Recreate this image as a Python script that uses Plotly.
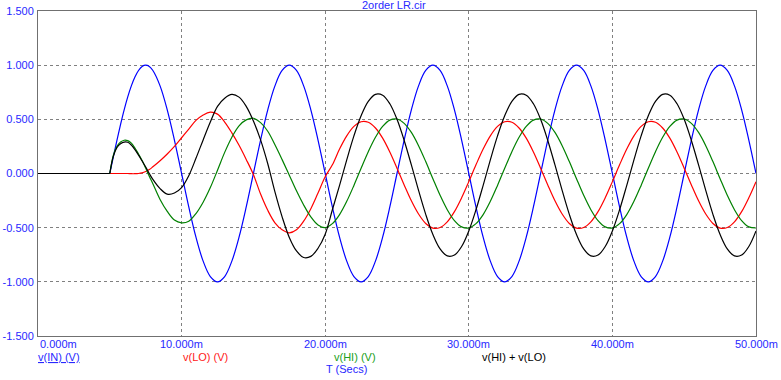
import plotly.graph_objects as go

# time samples in milliseconds
t_ms = [0, 4.75, 5, 5.25, 5.5, 5.75, 6, 6.25, 6.5, 6.75, 7, 7.25, 7.5, 7.75, 8,
        8.5, 9, 9.5, 10, 10.5, 11, 11.5, 12, 12.5, 13, 13.5, 14, 14.5, 15,
        15.5, 16, 16.5, 17, 17.5, 18, 18.5, 19, 19.5, 20,
        20.5, 21, 21.5, 22, 22.5, 23, 23.5, 24, 24.5, 25,
        25.5, 26, 26.5, 27, 27.5, 28, 28.5, 29, 29.5, 30,
        30.5, 31, 31.5, 32, 32.5, 33, 33.5, 34, 34.5, 35,
        35.5, 36, 36.5, 37, 37.5, 38, 38.5, 39, 39.5, 40,
        40.5, 41, 41.5, 42, 42.5, 43, 43.5, 44, 44.5, 45,
        45.5, 46, 46.5, 47, 47.5, 48, 48.5, 49, 49.5, 50]

v_in = [0, 0, 0, 0.156, 0.309, 0.454, 0.588, 0.707, 0.809, 0.891, 0.951, 0.988, 1.0, 0.988, 0.951,
        0.809, 0.588, 0.309, 0.0, -0.309, -0.588, -0.809, -0.951, -1.0, -0.951, -0.809, -0.588, -0.309, 0.0,
        0.309, 0.588, 0.809, 0.951, 1.0, 0.951, 0.809, 0.588, 0.309, 0.0,
        -0.309, -0.588, -0.809, -0.951, -1.0, -0.951, -0.809, -0.588, -0.309, 0.0,
        0.309, 0.588, 0.809, 0.951, 1.0, 0.951, 0.809, 0.588, 0.309, 0.0,
        -0.309, -0.588, -0.809, -0.951, -1.0, -0.951, -0.809, -0.588, -0.309, 0.0,
        0.309, 0.588, 0.809, 0.951, 1.0, 0.951, 0.809, 0.588, 0.309, 0.0,
        -0.309, -0.588, -0.809, -0.951, -1.0, -0.951, -0.809, -0.588, -0.309, 0.0,
        0.309, 0.588, 0.809, 0.951, 1.0, 0.951, 0.809, 0.588, 0.309, 0.0]

v_lo = [0, 0, 0, 0, 0, 0, 0, 0, -0.002, -0.002, 0.0, 0.006, 0.018, 0.036, 0.062,
        0.118, 0.18, 0.25, 0.33, 0.41, 0.49, 0.54, 0.566, 0.548, 0.475, 0.375, 0.26, 0.13, -0.01,
        -0.19, -0.34, -0.455, -0.52, -0.548, -0.52, -0.44, -0.325, -0.18, -0.03,
        0.080, 0.226, 0.348, 0.435, 0.478, 0.473, 0.420, 0.326, 0.198, 0.049,
        -0.106, -0.252, -0.374, -0.461, -0.504, -0.499, -0.446, -0.352, -0.224, -0.075,
        0.080, 0.226, 0.348, 0.435, 0.478, 0.473, 0.420, 0.326, 0.198, 0.049,
        -0.106, -0.252, -0.374, -0.461, -0.504, -0.499, -0.446, -0.352, -0.224, -0.075,
        0.080, 0.226, 0.348, 0.435, 0.478, 0.473, 0.420, 0.326, 0.198, 0.049,
        -0.106, -0.252, -0.374, -0.461, -0.504, -0.499, -0.446, -0.352, -0.224, -0.075]

v_hi = [0, 0, 0, 0.17, 0.25, 0.29, 0.307, 0.303, 0.28, 0.235, 0.18, 0.12, 0.05, -0.025, -0.095,
        -0.24, -0.35, -0.43, -0.455, -0.44, -0.37, -0.265, -0.13, 0.03, 0.195, 0.335, 0.44, 0.495, 0.51,
        0.47, 0.39, 0.265, 0.128, -0.015, -0.16, -0.29, -0.40, -0.475, -0.50,
        -0.463, -0.379, -0.257, -0.110, 0.048, 0.201, 0.334, 0.435, 0.493, 0.503,
        0.463, 0.379, 0.257, 0.110, -0.048, -0.201, -0.334, -0.435, -0.493, -0.503,
        -0.463, -0.379, -0.257, -0.110, 0.048, 0.201, 0.334, 0.435, 0.493, 0.503,
        0.463, 0.379, 0.257, 0.110, -0.048, -0.201, -0.334, -0.435, -0.493, -0.503,
        -0.463, -0.379, -0.257, -0.110, 0.048, 0.201, 0.334, 0.435, 0.493, 0.503,
        0.463, 0.379, 0.257, 0.110, -0.048, -0.201, -0.334, -0.435, -0.493, -0.503]

v_sum = [0, 0, 0, 0.16, 0.24, 0.275, 0.29, 0.288, 0.262, 0.22, 0.17, 0.115, 0.06, 0.0, -0.055,
         -0.14, -0.19, -0.18, -0.13, -0.02, 0.14, 0.31, 0.475, 0.62, 0.695, 0.73, 0.705, 0.62, 0.485,
         0.31, 0.09, -0.17, -0.40, -0.59, -0.715, -0.775, -0.765, -0.69, -0.56,
         -0.335, -0.109, 0.126, 0.347, 0.533, 0.666, 0.731, 0.723, 0.644, 0.500,
         0.305, 0.079, -0.156, -0.377, -0.563, -0.696, -0.761, -0.753, -0.674, -0.530,
         -0.335, -0.109, 0.126, 0.347, 0.533, 0.666, 0.731, 0.723, 0.644, 0.500,
         0.305, 0.079, -0.156, -0.377, -0.563, -0.696, -0.761, -0.753, -0.674, -0.530,
         -0.335, -0.109, 0.126, 0.347, 0.533, 0.666, 0.731, 0.723, 0.644, 0.500,
         0.305, 0.079, -0.156, -0.377, -0.563, -0.696, -0.761, -0.753, -0.674, -0.530]

x_tick_vals = [0, 10, 20, 30, 40, 50]
x_tick_text = ["0.000m", "10.000m", "20.000m", "30.000m", "40.000m", "50.000m"]
y_tick_vals = [-1.5, -1.0, -0.5, 0.0, 0.5, 1.0, 1.5]
y_tick_text = ["-1.500", "-1.000", "-0.500", "0.000", "0.500", "1.000", "1.500"]

series_names = ["v(IN) (V)", "v(LO) (V)", "v(HI) (V)", "v(HI) + v(LO)"]
series_colors = ["#0000ff", "#ff0000", "#008000", "#000000"]
label_colors = ["#2828ff", "#ff2020", "#20a020", "#000000"]
series_values = [v_in, v_lo, v_hi, v_sum]

FONT = "Liberation Sans, Arial, sans-serif"
BLUE_TXT = "#2828ff"

PL, PR, PT, PB = 38, 756, 11, 336  # plot area in pixels
START = t_ms.index(5)  # source switches on here

fig = go.Figure()
for name, color, vals in zip(series_names, series_colors, series_values):
    # flat part before the source starts (straight), then the response (smooth)
    fig.add_trace(go.Scatter(
        x=t_ms[:START + 1], y=vals[:START + 1], mode="lines", name=name,
        line=dict(color=color, width=1.2),
        hoverinfo="skip", showlegend=False,
    ))
    fig.add_trace(go.Scatter(
        x=t_ms[START:], y=vals[START:], mode="lines", name=name,
        line=dict(color=color, width=1.2, shape="spline", smoothing=1.0),
        hoverinfo="skip", showlegend=False,
    ))

fig.update_layout(
    width=781, height=380,
    margin=dict(l=PL, r=781 - PR, t=PT, b=380 - PB, autoexpand=False),
    paper_bgcolor="white", plot_bgcolor="white",
    font=dict(family=FONT, size=11, color=BLUE_TXT),
)

fig.update_xaxes(
    range=[0, 50], tickvals=[10, 20, 30, 40], showticklabels=False,
    showgrid=True, gridcolor="#808080", gridwidth=1, griddash="3px,3px",
    zeroline=False, showline=True, linecolor="#707070", linewidth=1, mirror=True,
    ticks="", automargin=False, fixedrange=True,
)
fig.update_yaxes(
    range=[-1.5, 1.5], tickvals=y_tick_vals, ticktext=y_tick_text,
    showgrid=True, gridcolor="#808080", gridwidth=1, griddash="3px,3px",
    zeroline=False, showline=True, linecolor="#707070", linewidth=1, mirror=True,
    ticks="", ticklabelstandoff=1, automargin=False, fixedrange=True,
    tickfont=dict(family=FONT, size=11, color=BLUE_TXT),
)


def px_x(x):
    return (x - PL) / (PR - PL)


def px_y(y):
    return (PB - y) / (PB - PT)


annotations = []
for v, txt in zip(x_tick_vals, x_tick_text):
    annotations.append(dict(
        x=v, xref="x", y=px_y(344), yref="paper", text=txt, showarrow=False,
        xanchor="left" if v == 0 else "center", yanchor="middle",
        font=dict(family=FONT, size=11, color=BLUE_TXT),
    ))

legend_pos = [(36, "left"), (205, "center"), (355, "center"), (514, "center")]
for (xpx, anchor), name, lc in zip(legend_pos, series_names, label_colors):
    txt = "<u>" + name + "</u>" if name == "v(IN) (V)" else name
    annotations.append(dict(
        x=px_x(xpx), xref="paper", y=px_y(357), yref="paper",
        text=txt, showarrow=False, xanchor=anchor, yanchor="middle",
        font=dict(family=FONT, size=11, color=lc),
    ))

annotations.append(dict(
    x=px_x(346), xref="paper", y=px_y(369), yref="paper",
    text="T (Secs)", showarrow=False, xanchor="center", yanchor="middle",
    font=dict(family=FONT, size=11, color=BLUE_TXT),
))
annotations.append(dict(
    x=px_x(394), xref="paper", y=px_y(5), yref="paper",
    text="2order LR.cir", showarrow=False, xanchor="center", yanchor="middle",
    font=dict(family=FONT, size=11, color=BLUE_TXT),
))

fig.update_layout(annotations=annotations)

fig.write_html(
    "out.html",
    config={"displayModeBar": False, "staticPlot": True},
    post_script="document.body.style.margin='0';document.body.style.overflow='hidden';",
)
